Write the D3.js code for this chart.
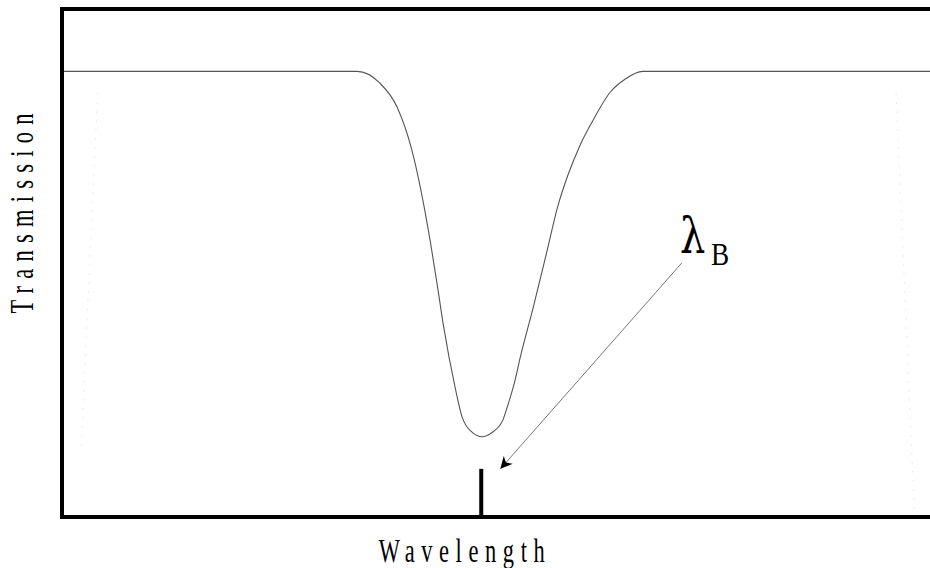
<!DOCTYPE html>
<html>
<head>
<meta charset="utf-8">
<script src="https://cdn.jsdelivr.net/npm/d3@7"></script>
<style>
  html, body { margin: 0; background: #fff; overflow: hidden; }
  svg { display: block; }
  text { font-family: "Liberation Serif", "DejaVu Serif", serif; fill: #000; }
</style>
</head>
<body>
<div id="chart"></div>
<script>
// wavelength (arbitrary units) and transmission
var wavelength = [0, 34.0, 36.6, 38.6, 40.3, 42.4, 43.2, 43.9, 45.3, 46.1, 47.2, 48.4,
                  49.5, 50.8, 51.3, 52.2, 52.8, 54.3, 55.9, 57.1, 58.3, 59.7, 61.4, 63.1, 64.9, 66.9, 102];
var transmission = [1.0, 1.0, 0.974, 0.920, 0.824, 0.622, 0.525, 0.435, 0.290, 0.224, 0.191, 0.180,
                    0.189, 0.218, 0.247, 0.307, 0.359, 0.471, 0.599, 0.696, 0.768, 0.835, 0.898, 0.952, 0.983, 1.0, 1.0];

var braggWavelength = 48.3;
var braggTickTop = 0.108;
var labelPoint = [71.4, 0.57];
var arrowTip = [50.5, 0.108];

// faint dotted guide lines at both ends
var guides = [
    [[4.1, 0.95], [2.2, 0.15]],
    [[96.1, 0.95], [98.2, 0.01]]
];

var width = 930, height = 568;
var plotLeft = 62, plotTop = 9, plotBottom = 517;
var svgWidth = 960; // frame runs off the right edge of the window

var svg = d3.select("#chart")
    .append("svg")
    .attr("width", svgWidth)
    .attr("height", height);

var x = d3.scaleLinear().domain([0, 100]).range([plotLeft, width]);
var y = d3.scaleLinear().domain([0, 1.14]).range([plotBottom, plotTop]);

var data = wavelength.map(function(w, i) { return { w: w, t: transmission[i] }; });

svg.append("defs").append("marker")
    .attr("id", "head")
    .attr("viewBox", "0 0 10 10")
    .attr("refX", 10)
    .attr("refY", 5)
    .attr("markerWidth", 17)
    .attr("markerHeight", 12)
    .attr("markerUnits", "userSpaceOnUse")
    .attr("orient", "auto")
    .append("path")
    .attr("d", "M0,0 L10,5 L0,10 L3,5 Z")
    .attr("fill", "#000");

// guides
svg.selectAll(".guide")
    .data(guides)
    .enter()
    .append("line")
    .attr("class", "guide")
    .attr("x1", d => x(d[0][0])).attr("y1", d => y(d[0][1]))
    .attr("x2", d => x(d[1][0])).attr("y2", d => y(d[1][1]))
    .attr("stroke", "#d8d8d8")
    .attr("stroke-width", 1)
    .attr("stroke-dasharray", "1,8");

// transmission curve
var line = d3.line()
    .x(d => x(d.w))
    .y(d => y(d.t))
    .curve(d3.curveMonotoneX);

svg.append("path")
    .datum(data)
    .attr("d", line)
    .attr("fill", "none")
    .attr("stroke", "#555")
    .attr("stroke-width", 1.1);

// frame: left, top, bottom (no right side)
var frame = [
    [plotLeft - 2, plotTop, svgWidth, plotTop],
    [plotLeft, plotTop, plotLeft, plotBottom],
    [plotLeft - 2, plotBottom, svgWidth, plotBottom]
];
svg.selectAll(".frame")
    .data(frame)
    .enter()
    .append("line")
    .attr("class", "frame")
    .attr("x1", d => d[0]).attr("y1", d => d[1])
    .attr("x2", d => d[2]).attr("y2", d => d[3])
    .attr("stroke", "#000")
    .attr("stroke-width", 4);

// bragg tick
svg.append("line")
    .attr("x1", x(braggWavelength)).attr("x2", x(braggWavelength))
    .attr("y1", y(0)).attr("y2", y(braggTickTop))
    .attr("stroke", "#000")
    .attr("stroke-width", 4);

// arrow
svg.append("line")
    .attr("x1", x(labelPoint[0])).attr("y1", y(labelPoint[1]))
    .attr("x2", x(arrowTip[0])).attr("y2", y(arrowTip[1]))
    .attr("stroke", "#777")
    .attr("stroke-width", 1)
    .attr("marker-end", "url(#head)");

// lambda_B label
svg.append("text")
    .attr("transform", "translate(680,253) scale(0.8,1)")
    .style("font-size", "50px")
    .style("font-family", "'DejaVu Serif', serif")
    .text("λ");
svg.append("text")
    .attr("transform", "translate(711,265) scale(0.85,1)")
    .style("font-size", "32px")
    .text("B");

// axis titles
svg.append("text")
    .attr("transform", "translate(465,562) scale(0.66,1)")
    .attr("text-anchor", "middle")
    .style("font-size", "34px")
    .style("letter-spacing", "10px")
    .text("Wavelength");

svg.append("text")
    .attr("transform", "translate(33,210) rotate(-90) scale(0.66,1)")
    .attr("text-anchor", "middle")
    .style("font-size", "34px")
    .style("letter-spacing", "11px")
    .text("Transmission");

// keep the strip at the window's right edge clear inside the frame
svg.append("rect")
    .attr("x", width - 8).attr("y", plotTop + 2)
    .attr("width", svgWidth - width + 8).attr("height", y(1) - plotTop - 4)
    .attr("fill", "#fff");
svg.append("rect")
    .attr("x", width - 8).attr("y", y(1) + 2)
    .attr("width", svgWidth - width + 8).attr("height", plotBottom - y(1) - 4)
    .attr("fill", "#fff");
</script>
</body>
</html>
